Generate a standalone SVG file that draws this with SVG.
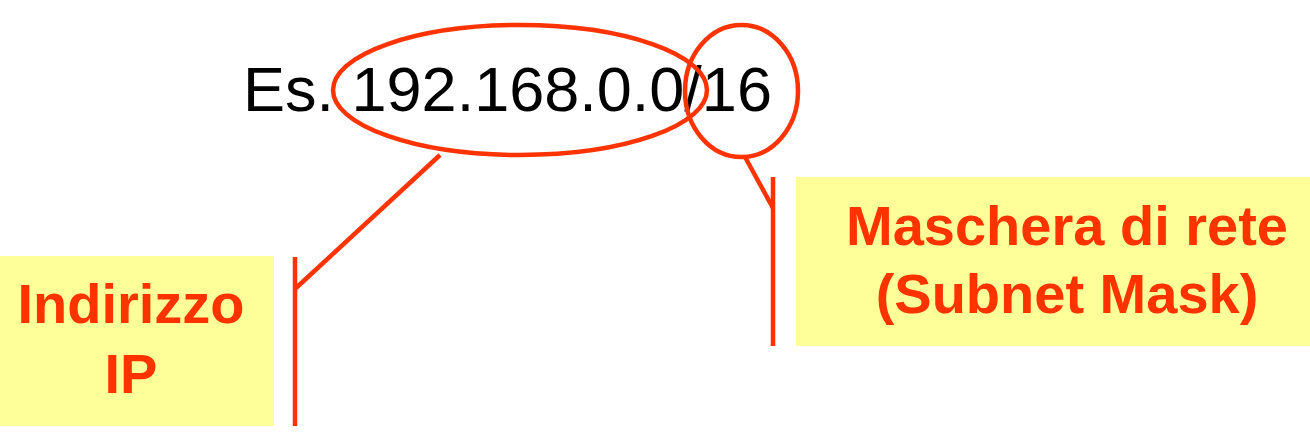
<svg xmlns="http://www.w3.org/2000/svg" width="1310" height="438" viewBox="0 0 1310 438">
  <style>
    .box { fill: #FFFF99; stroke: none; }
    .lbl { font-family: "Liberation Sans", Arial, sans-serif; font-weight: bold; font-size: 56px; fill: #FF3300; text-anchor: middle; }
    .main { font-family: "Liberation Sans", Arial, sans-serif; font-size: 63px; fill: #000000; }
    .ring { fill: none; stroke: #FF3300; stroke-width: 4.5; }
    .conn { fill: none; stroke: #FF3300; stroke-width: 4.5; stroke-linecap: butt; }
  </style>
  <rect width="1310" height="438" fill="#FFFFFF"/>
  <g id="address">
    <text class="main" x="243" y="111">Es. 192.168.0.0/16</text>
  </g>
  <g id="ip-ring">
    <ellipse class="ring" cx="520" cy="90" rx="187" ry="65"/>
  </g>
  <g id="mask-ring">
    <ellipse class="ring" cx="741.5" cy="91" rx="56.5" ry="66"/>
  </g>
  <g id="ip-label">
    <rect class="box" x="0" y="256" width="274" height="170"/>
    <text class="lbl" x="131" y="323">Indirizzo</text>
    <text class="lbl" x="131" y="393">IP</text>
  </g>
  <g id="mask-label">
    <rect class="box" x="796" y="177" width="514" height="169"/>
    <text class="lbl" x="1067" y="245">Maschera di rete</text>
    <text class="lbl" x="1067" y="313">(Subnet Mask)</text>
  </g>
  <g id="connectors">
    <polyline class="conn" points="440,155 296,288"/>
    <line class="conn" x1="295" y1="257" x2="295" y2="426"/>
    <polyline class="conn" points="745,157 773,208"/>
    <line class="conn" x1="773" y1="177" x2="773" y2="346"/>
  </g>
</svg>
